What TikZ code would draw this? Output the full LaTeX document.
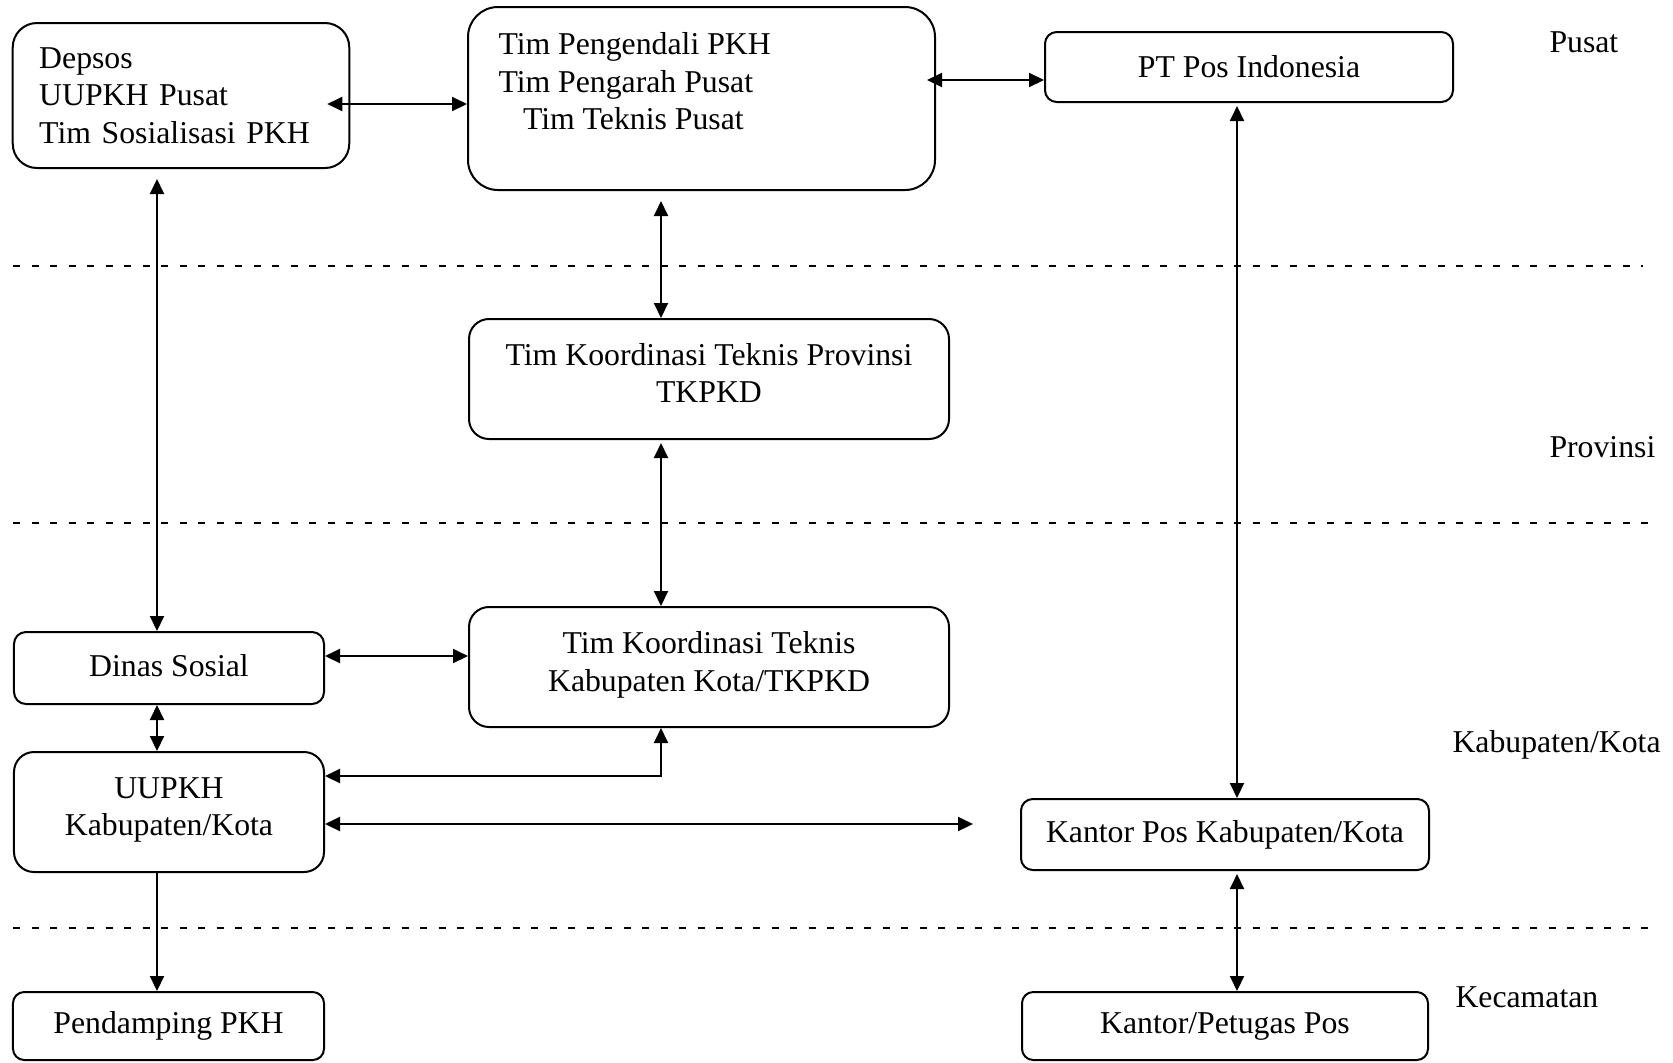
\documentclass[tikz,border=0pt]{standalone}
\usepackage{fontspec}
\setmainfont{Liberation Serif}
\usetikzlibrary{arrows.meta,calc}

\begin{document}
\begin{tikzpicture}[x=0.4pt,y=-0.4pt,
	font=\fontsize{12.7}{15}\selectfont,
	box/.style={draw,line width=0.8pt,rounded corners=#1,inner sep=0pt},
	box/.default=8pt,
	level/.style={anchor=base west,inner sep=0pt},
	arr/.style={line width=0.8pt,{Triangle[length=6pt,width=5.6pt]}-{Triangle[length=6pt,width=5.6pt]}},
	arrone/.style={line width=0.8pt,-{Triangle[length=6pt,width=5.6pt]}},
	levelline/.style={line width=0.8pt,dash pattern=on 2.8pt off 4.6pt}]
	\useasboundingbox (0,0) rectangle (1673,1062);
	% levels
	\foreach \Y/\X in {266/1643,523/1652,928/1650}
		\draw[levelline] (13,\Y) -- (\X,\Y);
	\node[level] (pusat) at (1549,52) {Pusat};
	\node[level] (provinsi) at (1549,457) {Provinsi};
	\node[level] (kabkota) at (1452,752) {Kabupaten/Kota};
	\node[level] (kecamatan) at (1455,1007) {Kecamatan};
	% boxes
	\node[box=9.7pt,minimum width=134.6pt,minimum height=58pt,text width=113.4pt,inner xsep=10.6pt,align=left] (depsos) at (181,95.5) {Depsos\\UUPKH Pusat\\Tim Sosialisasi PKH};
	\node[box=12pt,minimum width=186.8pt,minimum height=73.2pt] (peng) at (701.5,98.5) {};
	\node[anchor=north west,inner sep=0pt,align=left] (pengtxt) at (498,32) {Tim Pengendali PKH\\Tim Pengarah Pusat\\\hspace*{9.8pt}Tim Teknis Pusat};
	\node[box=4.7pt,minimum width=163.2pt,minimum height=28pt] (ptpos) at (1249,67) {PT Pos Indonesia};
	\node[box,minimum width=192pt,minimum height=48pt,align=center,text depth=4.8pt] (prov) at (709,379) {Tim Koordinasi Teknis Provinsi\\TKPKD};
	\node[box=4.8pt,minimum width=124pt,minimum height=28.8pt,text depth=2.4pt] (dinas) at (169,668) {Dinas Sosial};
	\node[box,minimum width=192pt,minimum height=48pt,align=center,text depth=4.4pt] (tkab) at (709,667) {Tim Koordinasi Teknis\\Kabupaten Kota/TKPKD};
	\node[box,minimum width=124pt,minimum height=48pt,align=center,text depth=4.4pt] (uupkh) at (169,812) {UUPKH\\Kabupaten/Kota};
	\node[box=4.7pt,minimum width=163.2pt,minimum height=28.4pt] (kpos) at (1225,834.5) {Kantor Pos Kabupaten/Kota};
	\node[box=4.5pt,minimum width=124.4pt,minimum height=27.2pt] (pendamping) at (168.5,1026) {Pendamping PKH};
	\node[box=4.5pt,minimum width=162.4pt,minimum height=27.2pt] (petugas) at (1225,1026) {Kantor/Petugas Pos};
	\coordinate (kend) at (973,824);
	% connectors
	\draw[arr] ($(depsos.east)+(-23,8.5)$) coordinate (a1) -- (a1 -| peng.west);
	\draw[arr] ($(ptpos.west)+(0,13)$) coordinate (a2) -- ($(a2 -| peng.east)+(-9,0)$);
	\draw[arr] ($(depsos.south)+(-24,10)$) coordinate (a3) -- (a3 |- dinas.north);
	\draw[arr] ($(peng.south)+(-40.5,10)$) coordinate (a4) -- (a4 |- prov.north);
	\draw[arr] ($(prov.south)+(-48,3)$) coordinate (a5) -- (a5 |- tkab.north);
	\draw[arr] ($(ptpos.south)+(-12,3)$) coordinate (a6) -- (a6 |- kpos.north);
	\draw[arr] ($(dinas.east)+(0,-12)$) coordinate (a7) -- (a7 -| tkab.west);
	\draw[arr] ($(dinas.south)+(-12,0)$) coordinate (a8) -- (a8 |- uupkh.north);
	\draw[arr] ($(tkab.south)+(-48,0)$) |- ($(uupkh.east)+(0,-36)$);
	\draw[arr] ($(uupkh.east)+(0,12)$) -- (kend);
	\draw[arrone] ($(uupkh.south)+(-12,0)$) coordinate (a11) -- (a11 |- pendamping.north);
	\draw[arr] ($(kpos.south)+(12,3)$) coordinate (a12) -- (a12 |- petugas.north);
\end{tikzpicture}
\end{document}
